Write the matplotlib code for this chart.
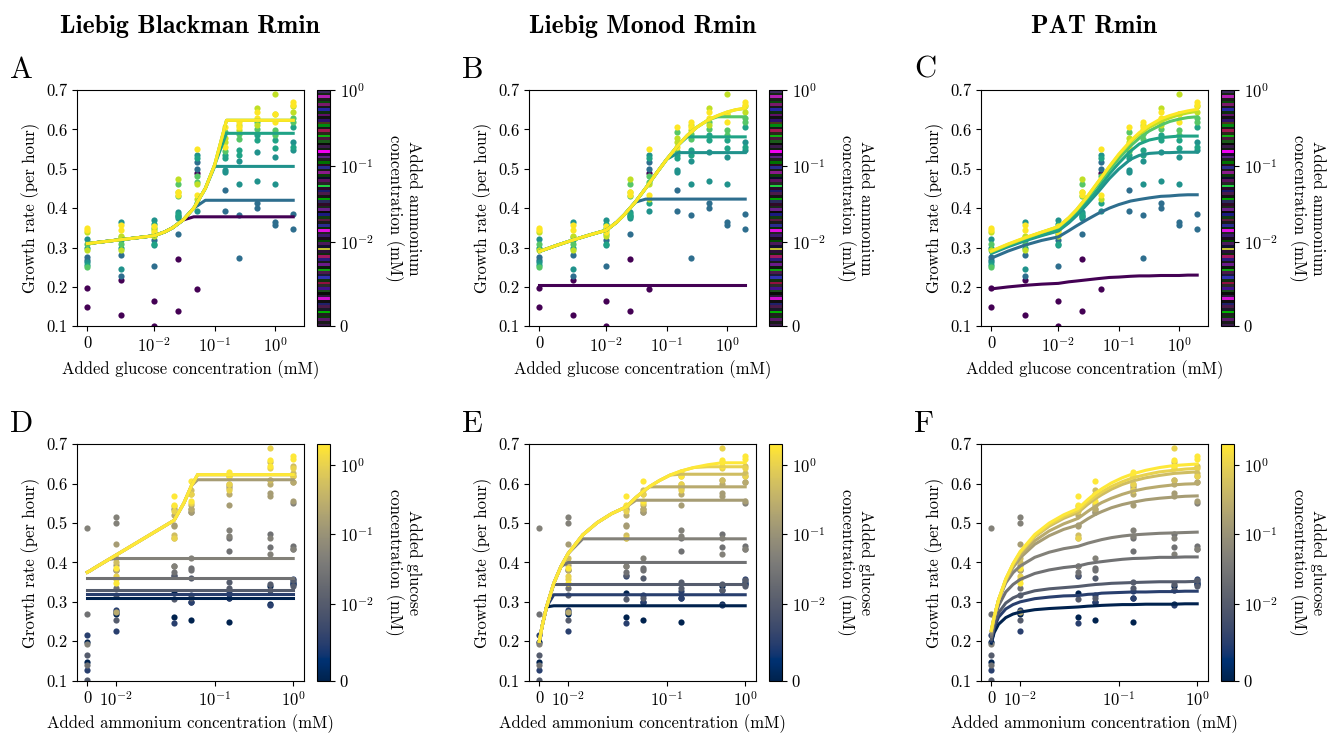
import numpy as np
import matplotlib
matplotlib.use('Agg')
import matplotlib.pyplot as plt
from matplotlib.colors import SymLogNorm, ListedColormap
from matplotlib.cm import ScalarMappable
from matplotlib.ticker import NullLocator, FixedLocator, FixedFormatter

plt.rcParams['font.family'] = 'serif'
plt.rcParams['font.serif'] = ['cmr10']
plt.rcParams['mathtext.fontset'] = 'cm'
plt.rcParams['axes.formatter.use_mathtext'] = True
plt.rcParams['font.size'] = 12

# ---------------- data ----------------
glucose_levels = [0, 0.005, 0.01, 0.025, 0.05, 0.15, 0.25, 0.5, 1.0, 2.0]
ammonium_levels = [0, 0.01, 0.03, 0.05, 0.15, 0.5, 1.0]
nan = np.nan
# rows: glucose level, columns: ammonium level
growth_rep1 = [
    [0.197, 0.275, 0.322, 0.300, 0.310, 0.295, 0.350],
    [0.217, 0.280, 0.365, 0.318, 0.327, 0.293, 0.357],
    [0.164, 0.318, 0.369, 0.360, 0.350, 0.345, 0.355],
    [0.270, 0.334, 0.375, 0.385, 0.461, 0.473, 0.441],
    [0.488, 0.516, 0.535, 0.528, 0.482, 0.462, 0.550],
    [nan,   0.446, 0.496, 0.535, 0.594, 0.577, 0.605],
    [nan,   0.382, 0.462, 0.547, 0.588, 0.610, 0.619],
    [nan,   0.412, 0.469, 0.585, 0.620, 0.655, 0.645],
    [nan,   0.365, 0.461, 0.573, 0.598, 0.690, 0.620],
    [nan,   0.386, 0.568, 0.607, 0.630, 0.645, 0.670],
]
growth_rep2 = [
    [0.148, 0.268, 0.262, 0.255, 0.250, 0.340, 0.345],
    [0.128, 0.227, 0.246, 0.300, 0.310, 0.330, 0.345],
    [0.102, 0.253, 0.306, 0.310, 0.335, 0.330, 0.340],
    [0.139, 0.380, 0.390, 0.380, 0.430, 0.440, 0.433],
    [0.194, 0.500, 0.392, 0.412, 0.467, 0.422, 0.433],
    [nan,   0.393, 0.492, 0.528, 0.546, 0.569, 0.556],
    [nan,   0.274, 0.520, 0.535, 0.575, 0.598, 0.605],
    [nan,   0.400, 0.543, 0.573, 0.600, 0.610, 0.628],
    [nan,   0.358, 0.530, 0.552, 0.585, 0.640, 0.640],
    [nan,   0.348, 0.547, 0.555, 0.620, 0.660, 0.662],
]

# fitted curves
glucose_grid = [0, 0.0025, 0.005, 0.0075, 0.01, 0.015, 0.02, 0.03, 0.045, 0.07,
                0.1, 0.157, 0.22, 0.32, 0.5, 0.7, 1.0, 1.4, 2.0]
ammonium_grid = [0, 0.001, 0.0025, 0.005, 0.0075, 0.01, 0.015, 0.02, 0.025, 0.03,
                 0.04, 0.05, 0.06, 0.08, 0.11, 0.15, 0.22, 0.33, 0.5, 0.7, 1.0]

# Liebig Blackman
lb_glucose_curve = [0.310, 0.315, 0.320, 0.325, 0.330, 0.340, 0.350, 0.370, 0.400, 0.450,
                    0.510, 0.623, 0.623, 0.623, 0.623, 0.623, 0.623, 0.623, 0.623]
lb_ammonium_caps = [0.378, 0.420, 0.506, 0.590, 0.623, 0.623, 0.623]
lb_ammonium_curve = [0.375, 0.379, 0.386, 0.397, 0.408, 0.419, 0.441, 0.463, 0.485, 0.507,
                     0.551, 0.595, 0.623, 0.623, 0.623, 0.623, 0.623, 0.623, 0.623, 0.623, 0.623]
lb_glucose_caps = [0.310, 0.320, 0.330, 0.360, 0.410, 0.610, 0.623, 0.623, 0.623, 0.623]

# Liebig Monod
lm_glucose_curve = [0.290, 0.305, 0.319, 0.332, 0.344, 0.365, 0.384, 0.415, 0.451, 0.492,
                    0.524, 0.561, 0.585, 0.606, 0.625, 0.635, 0.644, 0.650, 0.654]
lm_ammonium_caps = [0.204, 0.423, 0.541, 0.581, 0.632, 0.653, 0.658]
lm_ammonium_curve = [0.200, 0.239, 0.287, 0.347, 0.390, 0.423, 0.470, 0.501, 0.524, 0.541,
                     0.565, 0.581, 0.593, 0.608, 0.622, 0.632, 0.641, 0.648, 0.653, 0.656, 0.658]
lm_glucose_caps = [0.290, 0.318, 0.344, 0.400, 0.460, 0.558, 0.592, 0.624, 0.643, 0.653]

# PAT, one curve per ammonium level (vs glucose)
pat_glucose_curves = [
    [0.195, 0.200, 0.204, 0.207, 0.209, 0.213, 0.215, 0.218, 0.221, 0.224, 0.225, 0.227, 0.228, 0.228, 0.229, 0.229, 0.229, 0.230, 0.230],
    [0.273, 0.291, 0.306, 0.318, 0.327, 0.343, 0.355, 0.371, 0.386, 0.400, 0.409, 0.418, 0.422, 0.426, 0.430, 0.431, 0.433, 0.434, 0.434],
    [0.285, 0.302, 0.317, 0.330, 0.342, 0.363, 0.381, 0.410, 0.440, 0.475, 0.499, 0.524, 0.534, 0.539, 0.541, 0.541, 0.542, 0.542, 0.542],
    [0.287, 0.304, 0.319, 0.332, 0.344, 0.366, 0.385, 0.416, 0.448, 0.487, 0.514, 0.545, 0.563, 0.573, 0.579, 0.581, 0.583, 0.583, 0.583],
    [0.289, 0.307, 0.323, 0.338, 0.351, 0.374, 0.393, 0.425, 0.460, 0.497, 0.526, 0.558, 0.578, 0.596, 0.611, 0.620, 0.626, 0.630, 0.632],
    [0.290, 0.308, 0.324, 0.339, 0.353, 0.376, 0.396, 0.429, 0.465, 0.505, 0.535, 0.568, 0.588, 0.605, 0.620, 0.629, 0.637, 0.642, 0.646],
    [0.291, 0.309, 0.325, 0.339, 0.353, 0.376, 0.396, 0.429, 0.466, 0.506, 0.537, 0.571, 0.592, 0.610, 0.627, 0.635, 0.642, 0.647, 0.651],
]
# PAT, one curve per glucose level (vs ammonium)
pat_ammonium_curves = [
    [0.195, 0.222, 0.243, 0.260, 0.269, 0.274, 0.280, 0.283, 0.285, 0.287, 0.289, 0.290, 0.291, 0.292, 0.293, 0.293, 0.294, 0.294, 0.294, 0.295, 0.295],
    [0.200, 0.234, 0.261, 0.282, 0.293, 0.300, 0.308, 0.312, 0.315, 0.316, 0.319, 0.320, 0.322, 0.323, 0.324, 0.325, 0.325, 0.326, 0.326, 0.327, 0.327],
    [0.205, 0.242, 0.272, 0.297, 0.310, 0.318, 0.328, 0.333, 0.336, 0.339, 0.342, 0.344, 0.345, 0.347, 0.348, 0.349, 0.350, 0.351, 0.351, 0.351, 0.352],
    [0.212, 0.253, 0.290, 0.325, 0.344, 0.357, 0.372, 0.381, 0.387, 0.391, 0.397, 0.400, 0.402, 0.405, 0.408, 0.410, 0.411, 0.413, 0.413, 0.414, 0.414],
    [0.218, 0.261, 0.305, 0.348, 0.374, 0.391, 0.413, 0.426, 0.435, 0.441, 0.449, 0.454, 0.458, 0.463, 0.467, 0.470, 0.472, 0.474, 0.475, 0.476, 0.477],
    [0.224, 0.261, 0.303, 0.353, 0.387, 0.412, 0.446, 0.468, 0.484, 0.495, 0.511, 0.522, 0.529, 0.539, 0.547, 0.553, 0.559, 0.563, 0.566, 0.568, 0.569],
    [0.226, 0.261, 0.304, 0.355, 0.391, 0.418, 0.455, 0.480, 0.498, 0.512, 0.530, 0.543, 0.552, 0.563, 0.573, 0.581, 0.588, 0.593, 0.597, 0.599, 0.600],
    [0.227, 0.262, 0.304, 0.357, 0.395, 0.424, 0.465, 0.492, 0.512, 0.527, 0.548, 0.562, 0.572, 0.586, 0.598, 0.607, 0.615, 0.621, 0.626, 0.628, 0.630],
    [0.228, 0.263, 0.305, 0.358, 0.396, 0.426, 0.467, 0.496, 0.516, 0.532, 0.554, 0.568, 0.579, 0.593, 0.605, 0.615, 0.623, 0.630, 0.634, 0.637, 0.639],
    [0.228, 0.262, 0.305, 0.358, 0.397, 0.428, 0.471, 0.500, 0.521, 0.537, 0.560, 0.576, 0.587, 0.602, 0.615, 0.625, 0.634, 0.641, 0.646, 0.648, 0.650],
]

titles = ['Liebig Blackman Rmin', 'Liebig Monod Rmin', 'PAT Rmin']
letters = [['A', 'B', 'C'], ['D', 'E', 'F']]
tick_vals = [0, 0.01, 0.1, 1]
tick_labels = ['0', '$10^{-2}$', '$10^{-1}$', '$10^{0}$']
y_ticks = [0.1, 0.2, 0.3, 0.4, 0.5, 0.6, 0.7]

# colorbar stripe colours (top row colorbar appearance: dark with coloured streaks)
stripe_colors = [
    '#3a1a4a', '#1a1a1a', '#5a1a6a', '#0a3a0a', '#202020', '#00b000', '#1a1a2a', '#4a1a4a', '#20206a', '#101010',
    '#d010d0', '#2a1a3a', '#0a0a0a', '#1a4a1a', '#40108a', '#2a2a2a', '#901040', '#103010', '#3030b0', '#1a1a3a',
    '#4a1a4a', '#10a010', '#0a1a0a', '#6a1a8a', '#1a1a1a', '#2a1a7a', '#a01860', '#102a10', '#2a103a', '#c0c030',
    '#101030', '#4a1a5a', '#004a00', '#1a0a1a', '#3a1a6a', '#222222', '#e010e0', '#0a2a0a', '#2a2a90', '#1a1a1a',
    '#5a1a40', '#103a10', '#1a1a80', '#0a0a0a', '#6a208a', '#1a2a1a', '#300a28', '#2a2a5a', '#00a000', '#151515',
    '#4a1a4a', '#1a1a6a', '#2a0a2a', '#20d040', '#262626', '#5a105a', '#0a0a2a', '#0a3a0a', '#8a1a8a', '#1a1a1a',
    '#2a2a8a', '#2a0a20', '#007000', '#1e1e1e', '#5a2080', '#1a0a2a', '#f000f0', '#102010', '#3a1a4a', '#0a0a0a',
    '#1a5a1a', '#4a1a3a', '#10b010', '#2a2a1a', '#a01850', '#1a1a1a', '#008a10', '#4a3a1a', '#30106a', '#121212',
    '#60106a', '#0e2e0e', '#2626a0', '#181818', '#7a1a6a', '#0a4a0a', '#1c1c1c', '#b020b0', '#142814', '#3a2a5a',
]
stripe_cmap = ListedColormap(stripe_colors)

# ---------------- figure ----------------
W, H = 1340, 736
fig = plt.figure(figsize=(W / 100, H / 100), dpi=100)
col_left = [77, 529, 981]
row_top = [90, 444.3]
ax_w, ax_h = 226.5, 236.3
cb_gap, cb_w = 13.7, 12.8

norm_top = SymLogNorm(linthresh=0.01, linscale=1, vmin=0, vmax=1, base=10)
norm_bot = SymLogNorm(linthresh=0.01, linscale=1, vmin=0, vmax=2, base=10)
cmap_top = plt.get_cmap('viridis')
cmap_bot = plt.get_cmap('cividis')

G = np.array(glucose_levels)
A = np.array(ammonium_levels)
R1 = np.array(growth_rep1)
R2 = np.array(growth_rep2)


def rect(left, top, w, h):
    return [left / W, 1 - (top + h) / H, w / W, h / H]


def style_axis(ax, xlabel):
    ax.set_ylim(0.1, 0.7)
    ax.yaxis.set_major_locator(FixedLocator(y_ticks))
    ax.yaxis.set_major_formatter(FixedFormatter(['%.1f' % v for v in y_ticks]))
    ax.xaxis.set_major_locator(FixedLocator(tick_vals))
    ax.xaxis.set_major_formatter(FixedFormatter(tick_labels))
    ax.xaxis.set_minor_locator(NullLocator())
    ax.yaxis.set_minor_locator(NullLocator())
    ax.set_ylabel('Growth rate (per hour)')
    ax.set_xlabel(xlabel)


for row in range(2):
    for col in range(3):
        left = col_left[col]
        top = row_top[row]
        ax = fig.add_axes(rect(left, top, ax_w, ax_h))
        cax = fig.add_axes(rect(left + ax_w + cb_gap, top, cb_w, ax_h))
        if row == 0:
            ax.set_xscale('symlog', linthresh=0.01, linscale=1)
            # scatter: x = glucose, colour = ammonium
            for j, a in enumerate(ammonium_levels):
                for rep in (R1, R2):
                    ys = rep[:, j]
                    ok = ~np.isnan(ys)
                    ax.scatter(G[ok], ys[ok], s=20, color=cmap_top(norm_top(a)),
                               linewidths=0, zorder=2)
            gx = np.array(glucose_grid)
            for j, a in enumerate(ammonium_levels):
                c = cmap_top(norm_top(a))
                if col == 0:
                    y = np.minimum(np.array(lb_glucose_curve), lb_ammonium_caps[j])
                elif col == 1:
                    y = np.minimum(np.array(lm_glucose_curve), lm_ammonium_caps[j])
                else:
                    y = np.array(pat_glucose_curves[j])
                ax.plot(gx, y, color=c, lw=2.2, zorder=3)
            style_axis(ax, 'Added glucose concentration (mM)')
            sm = ScalarMappable(norm=norm_top, cmap=stripe_cmap)
            cb = fig.colorbar(sm, cax=cax)
            cb.set_label('Added ammonium\nconcentration (mM)', rotation=270,
                         va='bottom', labelpad=8)
        else:
            ax.set_xscale('symlog', linthresh=0.03, linscale=1)
            for i, g in enumerate(glucose_levels):
                for rep in (R1, R2):
                    ys = rep[i, :]
                    ok = ~np.isnan(ys)
                    ax.scatter(A[ok], ys[ok], s=20, color=cmap_bot(norm_bot(g)),
                               linewidths=0, zorder=2)
            axg = np.array(ammonium_grid)
            for i, g in enumerate(glucose_levels):
                c = cmap_bot(norm_bot(g))
                if col == 0:
                    y = np.minimum(np.array(lb_ammonium_curve), lb_glucose_caps[i])
                elif col == 1:
                    y = np.minimum(np.array(lm_ammonium_curve), lm_glucose_caps[i])
                else:
                    y = np.array(pat_ammonium_curves[i])
                ax.plot(axg, y, color=c, lw=2.2, zorder=3)
            style_axis(ax, 'Added ammonium concentration (mM)')
            sm = ScalarMappable(norm=norm_bot, cmap=cmap_bot)
            cb = fig.colorbar(sm, cax=cax)
            cb.set_label('Added glucose\nconcentration (mM)', rotation=270,
                         va='bottom', labelpad=8)
        cb.set_ticks(tick_vals)
        cb.set_ticklabels(tick_labels)
        cb.ax.yaxis.set_minor_locator(NullLocator())
        # panel letter
        base = 78 if row == 0 else 432
        fig.text((left - 67) / W, 1 - base / H, letters[row][col], fontsize=22,
                 ha='left', va='baseline')

for col in range(3):
    fig.text((col_left[col] + ax_w / 2) / W, 1 - 33 / H, titles[col],
             fontfamily='cmb10', fontsize=18.5, ha='center', va='baseline')

fig.savefig('out.png', dpi=100)
